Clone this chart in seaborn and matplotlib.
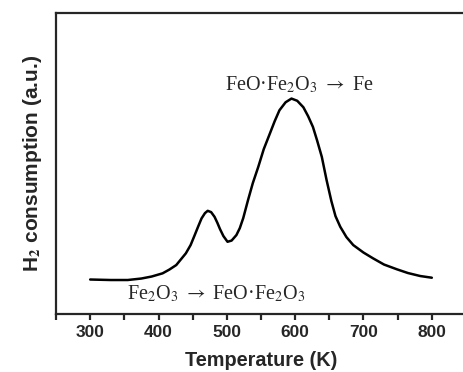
"""H2-TPR profile: two reduction steps of Fe2O3."""

import matplotlib
matplotlib.use("Agg")
import matplotlib.pyplot as plt
from matplotlib.ticker import MultipleLocator
import pandas as pd
import seaborn as sns

# (temperature in K, signal in a.u.)
temperature = [300, 330, 355, 375, 390, 406, 416, 426, 440, 447, 453, 458,
               463, 468, 472, 477, 482, 486, 490, 495, 501, 507, 514, 519,
               524, 531, 538, 546, 554, 563, 570, 577, 586, 594.6, 603, 612,
               619, 626, 632, 639, 646, 653, 659, 666, 675, 685, 700, 714,
               730, 749, 765, 783, 800]
signal = [34.5, 34, 34, 35.5, 37.5, 40.7, 44.5, 49, 60.7, 69, 79, 87.5,
          95.7, 101, 103.3, 102, 97.3, 91.5, 85, 78, 72.3, 73.5, 79, 86,
          96, 114, 131, 147.3, 165, 180.7, 193, 204, 212, 215.7, 213.5, 207,
          198, 187.3, 174, 157.3, 134, 113, 98, 87.3, 77, 69, 61.5, 55.7,
          49.5, 44.7, 41, 38, 36.3]

label_high = r"FeO·Fe$_2$O$_3$ $\rightarrow$ Fe"
label_low = r"Fe$_2$O$_3$ $\rightarrow$ FeO·Fe$_2$O$_3$"

sns.set_style("ticks")
plt.rcParams.update({
    "font.family": ["Liberation Sans", "DejaVu Sans"],
    "mathtext.fontset": "stix",
    "axes.linewidth": 1.6,
})

df = pd.DataFrame({"T": temperature, "H2": signal})

fig = plt.figure(figsize=(4.64, 3.72), dpi=100)
ax = fig.add_axes([0.1207, 0.156, 0.8836, 0.808])

sns.lineplot(data=df, x="T", y="H2", color="black", linewidth=1.8, ax=ax)

ax.set_xlim(250, 850)
ax.set_ylim(0, 301)
ax.xaxis.set_major_locator(MultipleLocator(100))
ax.xaxis.set_minor_locator(MultipleLocator(50))
ax.set_yticks([])
ax.tick_params(axis="x", which="both", direction="out", length=4, width=1.6,
               labelsize=12.5, pad=4)
ax.set_xticks(range(300, 801, 100))
ax.set_xticklabels([str(t) for t in range(300, 801, 100)], fontweight="bold")
ax.set_xlim(250, 850)

ax.set_xlabel("Temperature (K)", fontsize=14.3, fontweight="bold", labelpad=8)
ax.set_ylabel(r"H$_\mathbf{2}$ consumption (a.u.)", fontsize=15,
              fontweight="bold", labelpad=9)
plt.rcParams["mathtext.bf"] = "Liberation Sans:bold"

serif = ["Liberation Serif", "DejaVu Serif"]
ax.text(497, 229, label_high, fontsize=14.5, family=serif, va="center", ha="left")
ax.text(354, 20, label_low, fontsize=14.5, family=serif, va="center", ha="left")

fig.savefig("out.png", dpi=100)
